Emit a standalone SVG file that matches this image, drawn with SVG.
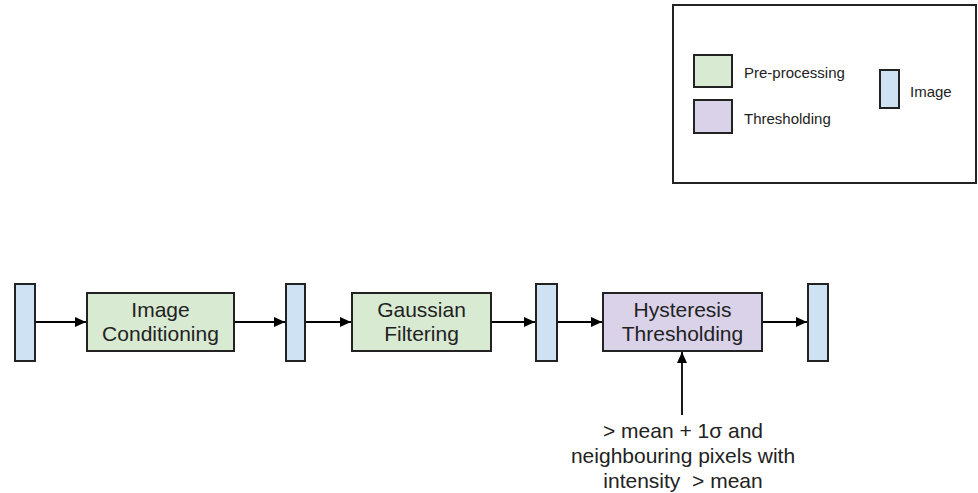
<svg xmlns="http://www.w3.org/2000/svg" width="978" height="493" viewBox="0 0 978 493">
  <defs>
    <marker id="arrow" viewBox="0 0 11 10" refX="11" refY="5" markerWidth="11" markerHeight="10" markerUnits="userSpaceOnUse" orient="auto">
      <path d="M0,0 L11,5 L0,10 Z" fill="#000"/>
    </marker>
    <style>
      .pre { fill: #d9ead3; stroke: #222; stroke-width: 2; }
      .thr { fill: #d9d2e9; stroke: #222; stroke-width: 2; }
      .img { fill: #cfe2f3; stroke: #222; stroke-width: 2; }
      .edge { stroke: #000; stroke-width: 1.8; fill: none; marker-end: url(#arrow); }
      text { font-family: "Liberation Sans", Arial, sans-serif; fill: #222; }
      .lbl { font-size: 21px; text-anchor: middle; }
      .leg { font-size: 15px; }
    </style>
  </defs>

  <!-- legend -->
  <g id="legend">
    <rect x="673" y="5" width="303" height="178" fill="#fff" stroke="#222" stroke-width="2"/>
    <rect class="pre" x="694" y="55" width="38" height="32"/>
    <text class="leg" x="744" y="78">Pre-processing</text>
    <rect class="thr" x="694" y="100" width="38" height="33"/>
    <text class="leg" x="744" y="124">Thresholding</text>
    <rect class="img" x="880" y="70" width="19" height="38"/>
    <text class="leg" x="910" y="97">Image</text>
  </g>

  <!-- image stages -->
  <g id="img1"><rect class="img" x="15" y="284" width="20" height="77"/></g>
  <g id="img2"><rect class="img" x="286" y="284" width="19" height="77"/></g>
  <g id="img3"><rect class="img" x="536" y="284" width="21" height="77"/></g>
  <g id="img4"><rect class="img" x="808" y="284" width="20" height="77"/></g>

  <!-- processing steps -->
  <g id="conditioning">
    <rect class="pre" x="87" y="293" width="147" height="58"/>
    <text class="lbl" x="160.5" y="317">Image</text>
    <text class="lbl" x="160.5" y="341">Conditioning</text>
  </g>
  <g id="gaussian">
    <rect class="pre" x="352" y="293" width="139" height="58"/>
    <text class="lbl" x="421.5" y="317">Gaussian</text>
    <text class="lbl" x="421.5" y="341">Filtering</text>
  </g>
  <g id="hysteresis">
    <rect class="thr" x="603" y="293" width="159" height="58"/>
    <text class="lbl" x="682.5" y="317">Hysteresis</text>
    <text class="lbl" x="682.5" y="341">Thresholding</text>
  </g>

  <g id="criteria">
    <text class="lbl" x="683" y="438">&gt; mean + 1σ and</text>
    <text class="lbl" x="683" y="463">neighbouring pixels with</text>
    <text class="lbl" x="683" y="488" xml:space="preserve" style="white-space:pre">intensity  &gt; mean</text>
  </g>

  <!-- connectors -->
  <g id="connectors">
    <line class="edge" x1="36" y1="322" x2="86" y2="322"/>
    <line class="edge" x1="235" y1="322" x2="285" y2="322"/>
    <line class="edge" x1="306" y1="322" x2="351" y2="322"/>
    <line class="edge" x1="492" y1="322" x2="535" y2="322"/>
    <line class="edge" x1="558" y1="322" x2="602" y2="322"/>
    <line class="edge" x1="763" y1="322" x2="807" y2="322"/>
    <line class="edge" x1="682" y1="415" x2="682" y2="352"/>
  </g>
</svg>
